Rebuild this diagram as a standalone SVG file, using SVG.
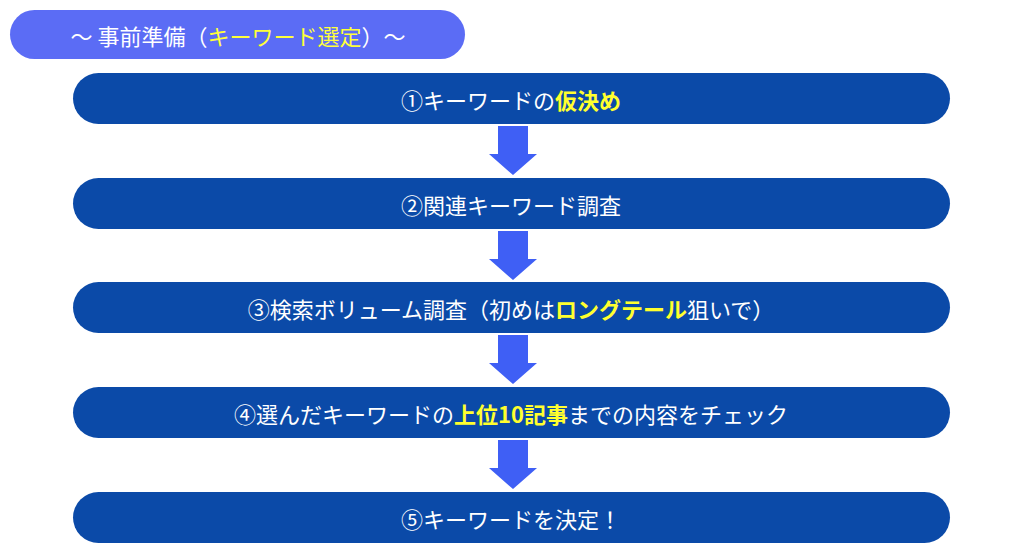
<svg xmlns="http://www.w3.org/2000/svg" width="1024" height="553" viewBox="0 0 1024 553">
<style>
text{font-family:"Noto Sans CJK JP","Noto Sans",sans-serif;font-size:22px;fill:#fff;text-anchor:middle;dominant-baseline:central}
.box{fill:#0b4aa8}
.y{fill:#ffff2e;font-weight:bold}
.arr{fill:#3f5ff5}
</style>
<rect width="1024" height="553" fill="#fff"/>
<g id="title"><rect x="10" y="10" width="455" height="49" rx="24.5" fill="#5b6cf5"/><text x="238" y="35">〜 事前準備（<tspan fill="#ffff3a">キーワード選定</tspan>）〜</text></g>
<g id="n1"><rect class="box" x="73" y="73" width="877" height="51" rx="25.5"/><text x="511" y="99">①キーワードの<tspan class="y">仮決め</tspan></text></g>
<g id="n2"><rect class="box" x="73" y="178" width="877" height="51" rx="25.5"/><text x="511" y="204">②関連キーワード調査</text></g>
<g id="n3"><rect class="box" x="73" y="282" width="877" height="51" rx="25.5"/><text x="511" y="308">③検索ボリューム調査（初めは<tspan class="y">ロングテール</tspan>狙いで）</text></g>
<g id="n4"><rect class="box" x="73" y="387" width="877" height="51" rx="25.5"/><text x="511" y="413">④選んだキーワードの<tspan class="y">上位10記事</tspan>までの内容をチェック</text></g>
<g id="n5"><rect class="box" x="73" y="492" width="877" height="51" rx="25.5"/><text x="511" y="518">⑤キーワードを決定！</text></g>
<g id="connectors">
<polygon class="arr" points="498,126 528,126 528,154 537,154 513,175 489,154 498,154"/>
<polygon class="arr" points="498,231 528,231 528,259 537,259 513,280 489,259 498,259"/>
<polygon class="arr" points="498,335 528,335 528,363 537,363 513,384 489,363 498,363"/>
<polygon class="arr" points="498,440 528,440 528,468 537,468 513,489 489,468 498,468"/>
</g>
</svg>
